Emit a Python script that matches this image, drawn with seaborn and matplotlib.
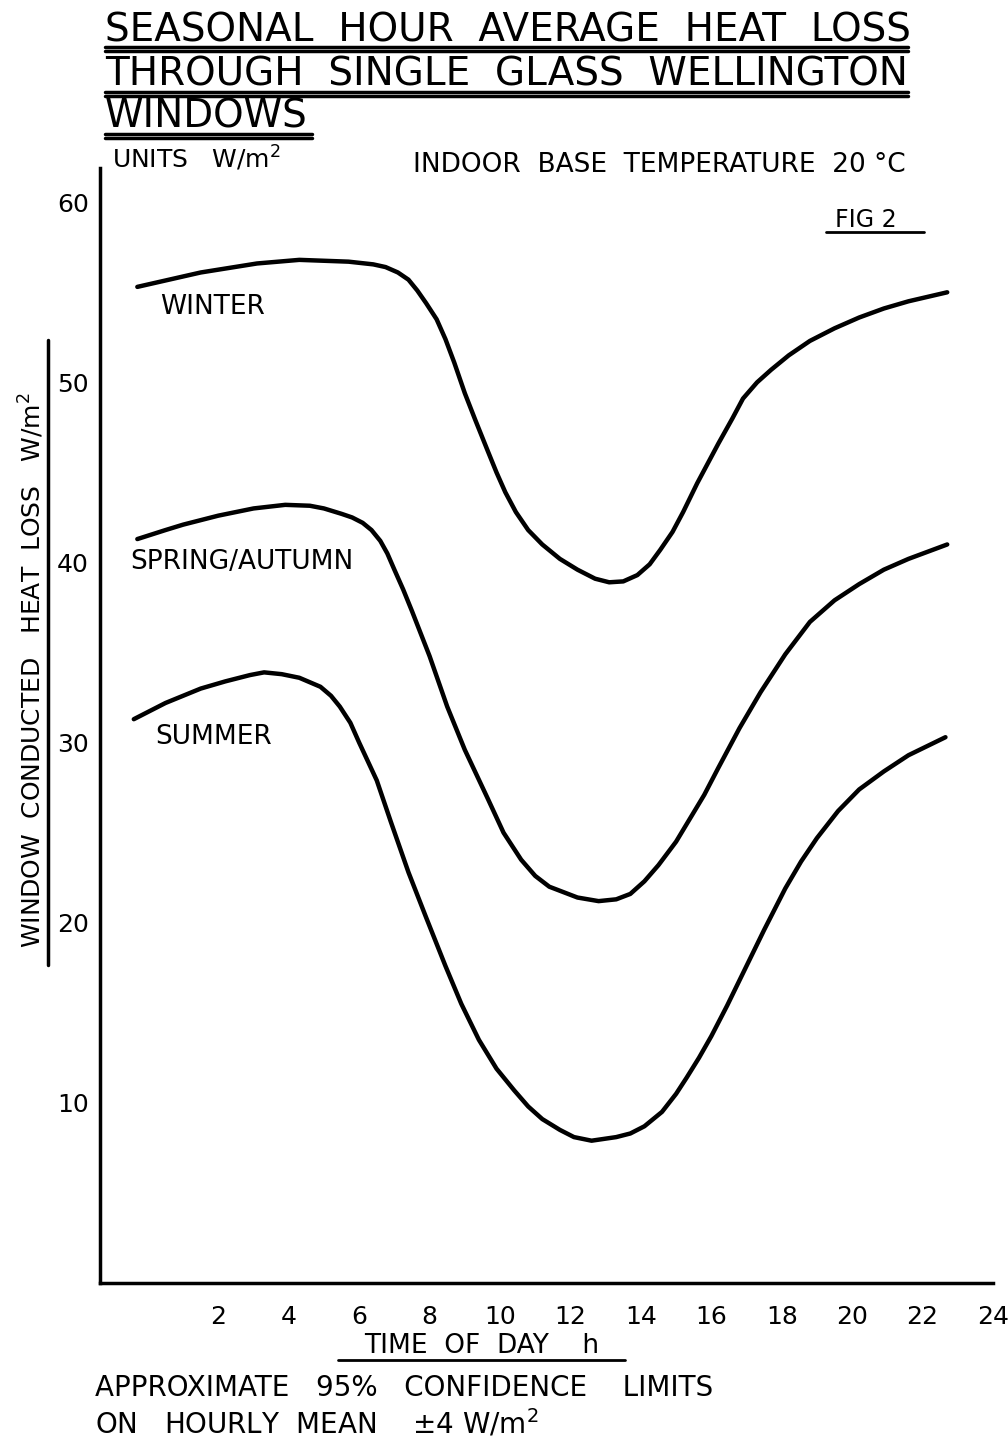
import matplotlib
matplotlib.use("Agg")
import matplotlib.pyplot as plt
import seaborn as sns
import pandas as pd
from matplotlib.lines import Line2D

# ---- data (hour of day, W/m2) ----
winter_h = [-0.3, 0.6, 1.5, 2.3, 3.1, 4.3, 5.7, 6.4, 6.75, 7.1, 7.4, 7.65, 7.9, 8.2, 8.45,
            8.7, 9.0, 9.3, 9.65, 9.9, 10.15, 10.45, 10.8, 11.2, 11.7, 12.2, 12.7, 13.1, 13.5,
            13.9, 14.25, 14.55, 14.9, 15.2, 15.6, 16.2, 16.6, 16.9, 17.3, 17.7, 18.2, 18.8,
            19.5, 20.2, 20.9, 21.6, 22.7]
winter_w = [55.3, 55.7, 56.1, 56.35, 56.6, 56.8, 56.7, 56.55, 56.4, 56.1, 55.7, 55.1, 54.4, 53.5, 52.4,
            51.1, 49.4, 47.9, 46.2, 45.0, 43.9, 42.8, 41.8, 41.0, 40.2, 39.6, 39.1, 38.9, 38.95,
            39.3, 39.9, 40.7, 41.7, 42.8, 44.4, 46.6, 48.0, 49.1, 50.0, 50.7, 51.5, 52.3,
            53.0, 53.6, 54.1, 54.5, 55.0]

spring_h = [-0.3, 0.5, 1.0, 2.0, 3.0, 3.9, 4.6, 5.0, 5.5, 5.8, 6.1, 6.35, 6.6, 6.8, 7.0,
            7.25, 7.5, 8.0, 8.5, 9.0, 9.65, 10.1, 10.6, 11.0, 11.4, 11.8, 12.2, 12.8, 13.3,
            13.7, 14.1, 14.5, 15.0, 15.4, 15.8, 16.2, 16.8, 17.4, 18.1, 18.8, 19.5, 20.2,
            20.9, 21.6, 22.7]
spring_w = [41.3, 41.8, 42.1, 42.6, 43.0, 43.2, 43.15, 43.0, 42.7, 42.5, 42.2, 41.8, 41.2, 40.5, 39.6,
            38.5, 37.3, 34.8, 32.0, 29.6, 26.9, 25.0, 23.5, 22.6, 22.0, 21.7, 21.4, 21.2, 21.3,
            21.6, 22.3, 23.2, 24.5, 25.8, 27.1, 28.6, 30.8, 32.8, 34.9, 36.7, 37.9, 38.8,
            39.6, 40.2, 41.0]

summer_h = [-0.4, 0.5, 1.5, 2.2, 2.9, 3.3, 3.8, 4.3, 4.9, 5.2, 5.45, 5.75, 6.0, 6.5, 6.9,
            7.4, 7.9, 8.45, 8.9, 9.4, 9.9, 10.4, 10.8, 11.2, 11.7, 12.1, 12.6, 13.3, 13.7,
            14.1, 14.6, 15.0, 15.3, 15.65, 16.0, 16.45, 16.9, 17.5, 18.1, 18.55, 19.0, 19.6,
            20.2, 20.9, 21.6, 22.65]
summer_w = [31.3, 32.2, 33.0, 33.4, 33.75, 33.9, 33.8, 33.6, 33.1, 32.6, 32.0, 31.1, 30.0, 27.9, 25.6,
            22.8, 20.3, 17.6, 15.5, 13.5, 11.9, 10.7, 9.8, 9.1, 8.5, 8.1, 7.9, 8.1, 8.3,
            8.7, 9.5, 10.5, 11.4, 12.5, 13.7, 15.4, 17.2, 19.6, 21.9, 23.4, 24.7, 26.2,
            27.4, 28.4, 29.3, 30.3]

x_ticks = [2, 4, 6, 8, 10, 12, 14, 16, 18, 20, 22, 24]
y_ticks = [10, 20, 30, 40, 50, 60]

df = pd.concat([
    pd.DataFrame({"hour": winter_h, "loss": winter_w, "season": "WINTER"}),
    pd.DataFrame({"hour": spring_h, "loss": spring_w, "season": "SPRING/AUTUMN"}),
    pd.DataFrame({"hour": summer_h, "loss": summer_w, "season": "SUMMER"}),
])

sns.set_theme(style="white")
plt.rcParams["font.family"] = ["DejaVu Sans"]
plt.rcParams["text.color"] = "black"
plt.rcParams["xtick.color"] = "black"
plt.rcParams["ytick.color"] = "black"

fig = plt.figure(figsize=(10.08, 14.4), dpi=100)
ax = fig.add_axes([100 / 1008, 157 / 1440, 893 / 1008, 1115 / 1440])

sns.lineplot(data=df, x="hour", y="loss", units="season", estimator=None, sort=False,
             color="black", linewidth=3.2, ax=ax,
             solid_joinstyle="round", solid_capstyle="round")

ax.set_xlim(-1.36, 24.0)
ax.set_ylim(0, 61.9)
ax.set_xticks(x_ticks)
ax.set_yticks(y_ticks)
ax.set_xlabel("")
ax.set_ylabel("")
for s in ["top", "right"]:
    ax.spines[s].set_visible(False)
for s in ["left", "bottom"]:
    ax.spines[s].set_linewidth(2.5)
    ax.spines[s].set_color("black")
ax.tick_params(axis="both", direction="inout", length=12, width=1.5, labelsize=18)
ax.tick_params(axis="x", pad=10)
ax.tick_params(axis="y", pad=2)

# curve labels
ax.text(0.34, 54.2, "WINTER", fontsize=19, va="center", ha="left")
ax.text(-0.5, 40.0, "SPRING/AUTUMN", fontsize=19, va="center", ha="left")
ax.text(0.2, 30.3, "SUMMER", fontsize=19, va="center", ha="left")


def px(x, y):
    return x / 1008, 1 - y / 1440


def uline(x0, x1, y, lw=2.5, double=False):
    fig.add_artist(Line2D([x0 / 1008, x1 / 1008], [1 - y / 1440, 1 - y / 1440],
                          color="black", lw=lw))
    if double:
        fig.add_artist(Line2D([x0 / 1008, x1 / 1008], [1 - (y + 4) / 1440, 1 - (y + 4) / 1440],
                              color="black", lw=lw))


# title block
title_lines = ["SEASONAL  HOUR  AVERAGE  HEAT  LOSS",
               "THROUGH  SINGLE  GLASS  WELLINGTON",
               "WINDOWS"]
baselines = [41, 85, 128]
for t, b in zip(title_lines, baselines):
    fig.text(*px(105, b), t, fontsize=28, ha="left", va="baseline")
uline(105, 908, 47, double=True)
uline(105, 908, 92, double=True)
uline(105, 312, 134, double=True)

fig.text(*px(112, 168), "UNITS   W/m$^2$", fontsize=18, ha="left", va="baseline")
fig.text(*px(906, 172), "INDOOR  BASE  TEMPERATURE  20 °C", fontsize=19, ha="right", va="baseline")
fig.text(*px(835, 227), "FIG 2", fontsize=17, ha="left", va="baseline")
uline(826, 924, 232, lw=2)

# axis titles
fig.text(*px(32, 670), "WINDOW  CONDUCTED   HEAT  LOSS   W/m$^2$", fontsize=18,
         rotation=90, ha="center", va="center")
fig.add_artist(Line2D([48 / 1008, 48 / 1008], [1 - 340 / 1440, 1 - 965 / 1440],
                      color="black", lw=2.5))
fig.text(*px(482, 1346), "TIME  OF  DAY    h", fontsize=19, ha="center", va="center")
uline(338, 625, 1360, lw=2)

fig.text(*px(95, 1396), "APPROXIMATE   95%   CONFIDENCE    LIMITS", fontsize=20,
         ha="left", va="baseline")
fig.text(*px(95, 1433), "ON   HOURLY  MEAN    ±4 W/m$^2$", fontsize=20,
         ha="left", va="baseline")

fig.savefig("out.png", dpi=100, facecolor="white")
